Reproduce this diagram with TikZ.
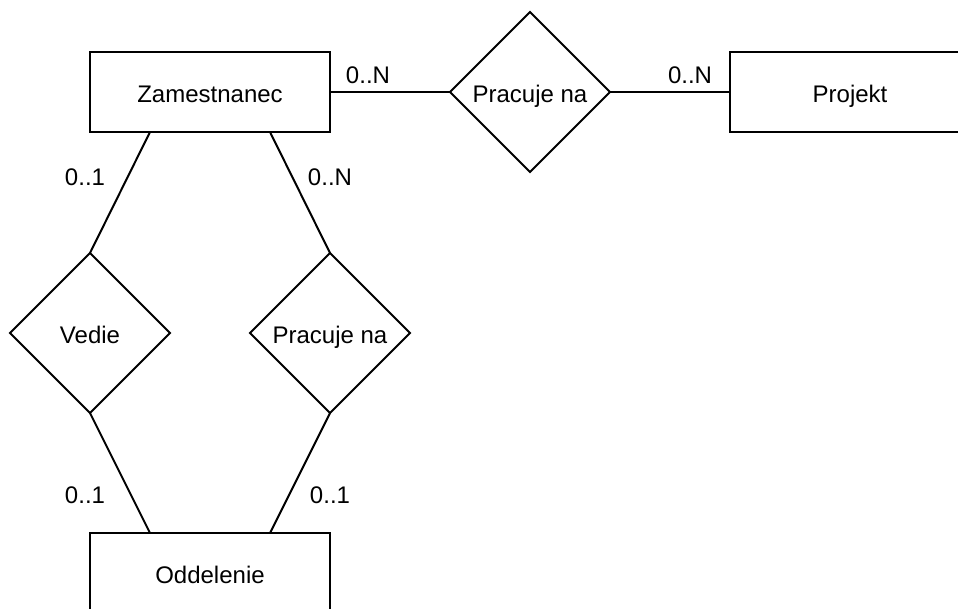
\documentclass[tikz,border=0pt]{standalone}
\usepackage{fontspec}
\setmainfont{Liberation Sans}
\usetikzlibrary{shapes.geometric}
\begin{document}
\begin{tikzpicture}[x=1pt,y=-1pt,
  txt/.style={font=\fontsize{24}{28}\selectfont,text height=21pt,text depth=1pt},
  entity/.style={txt,draw,line width=2pt,rectangle,minimum width=240pt,minimum height=80pt,inner sep=0pt,outer sep=0pt},
  rel/.style={txt,draw,line width=2pt,diamond,minimum width=160pt,minimum height=160pt,inner sep=0pt,outer sep=0pt},
  card/.style={txt,inner sep=0pt},
  conn/.style={line width=2pt}]
\useasboundingbox (0,0) rectangle (958,608);
\node[entity] (zam) at (210,92) {Zamestnanec};
\node[entity] (proj) at (850,92) {Projekt};
\node[entity] (odd) at (210,573) {Oddelenie};
\node[rel] (prac1) at (530,92) {Pracuje na};
\node[rel] (vedie) at (90,333) {Vedie};
\node[rel] (prac2) at (330,333) {Pracuje na};
\draw[conn] (zam.east) -- (prac1.west);
\draw[conn] (prac1.east) -- (proj.west);
\draw[conn] ([xshift=60pt]zam.south west) -- (vedie.north);
\draw[conn] ([xshift=-60pt]zam.south east) -- (prac2.north);
\draw[conn] (vedie.south) -- ([xshift=60pt]odd.north west);
\draw[conn] (prac2.south) -- ([xshift=-60pt]odd.north east);
\node[card] (c1) at (368,73) {0..N};
\node[card] (c2) at (690,73) {0..N};
\node[card] (c3) at (85,175) {0..1};
\node[card] (c4) at (330,175) {0..N};
\node[card] (c5) at (85,493) {0..1};
\node[card] (c6) at (330,493) {0..1};
\end{tikzpicture}
\end{document}
